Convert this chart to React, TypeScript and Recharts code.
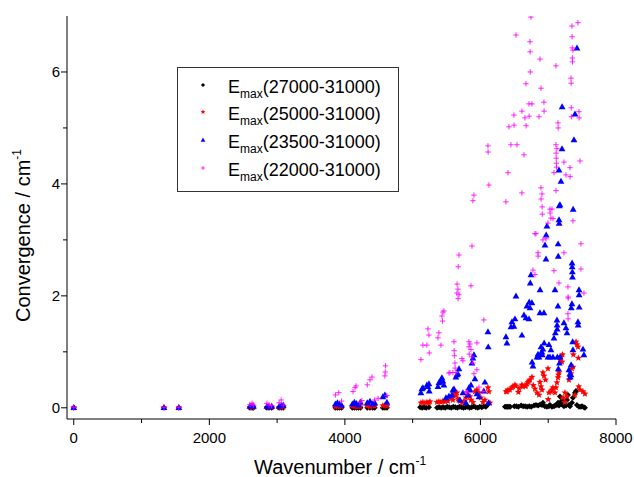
import { ScatterChart, Scatter, XAxis, YAxis, Label } from 'recharts';

// [wavenumber, convergence]
const black: [number, number][] = [
  [0, 0], [1330, 0], [1550, 0], [2600, 0], [2630, 0], [2650, 0], [2850, 0], [2880, 0], [2920, 0],
  [3030, 0], [3060, 0], [3090, 0], [3860, 0], [3890, 0], [3920, 0], [3950, 0], [4110, 0], [4140, 0],
  [4170, 0], [4200, 0], [4230, 0], [4330, 0], [4370, 0], [4410, 0], [4440, 0], [4560, 0], [4590, 0], [4620, 0],
  [5110, 0.01], [5140, 0], [5170, 0.01], [5200, 0], [5240, 0.01], [5360, 0], [5390, 0.01], [5420, 0],
  [5450, 0.01], [5480, 0], [5510, 0.02], [5540, 0.01], [5570, 0], [5600, 0.02], [5630, 0.01], [5660, 0],
  [5690, 0.02], [5720, 0.01], [5750, 0], [5780, 0.01], [5810, 0.02], [5840, 0], [5870, 0.01], [5900, 0.03],
  [5930, 0.01], [5960, 0], [5990, 0.02], [6020, 0.01], [6050, 0.03], [6080, 0.02], [6110, 0.06],
  [6362, 0.02], [6380, 0.02], [6400, 0.02], [6420, 0.02], [6440, 0.02], [6500, 0.03], [6530, 0.03],
  [6560, 0.02], [6600, 0.04], [6630, 0.03], [6660, 0.03], [6690, 0.02], [6720, 0.03], [6750, 0.02],
  [6790, 0.04], [6820, 0.05], [6850, 0.04], [6880, 0.06], [6908, 0.05], [6922, 0.09], [6950, 0.03],
  [6980, 0.02], [7011, 0.03], [7026, 0.05], [7055, 0.02], [7085, 0.03], [7100, 0.04], [7129, 0.05],
  [7144, 0.09], [7159, 0.04], [7173, 0.2], [7188, 0.11], [7203, 0.06], [7218, 0.14], [7232, 0.03],
  [7262, 0.04], [7277, 0.14], [7291, 0.23], [7306, 0.05], [7321, 0.03], [7350, 0.09], [7365, 0.18],
  [7395, 0.27], [7410, 0.3], [7424, 0.05], [7454, 0.02], [7483, 0.02], [7498, 0.03], [7527, 0.01], [7542, 0],
];

const red: [number, number][] = [
  [0, 0.005], [1330, 0.005], [1550, 0.005], [2600, 0.01], [2630, 0.01], [2650, 0.02], [2850, 0.01],
  [2880, 0.01], [2920, 0.01], [3030, 0.01], [3060, 0.01], [3090, 0.02], [3860, 0.02], [3890, 0.03],
  [3920, 0.02], [3950, 0.02], [4110, 0.03], [4140, 0.03], [4170, 0.02], [4200, 0.03], [4230, 0.02],
  [4330, 0.03], [4370, 0.02], [4410, 0.04], [4440, 0.03], [4560, 0.04], [4590, 0.05], [4620, 0.03],
  [5122, 0.09], [5151, 0.1], [5181, 0.09], [5210, 0.1], [5240, 0.09], [5255, 0.11],
  [5358, 0.1], [5387, 0.11], [5417, 0.1], [5446, 0.12], [5476, 0.11], [5505, 0.14], [5520, 0.12],
  [5550, 0.18], [5579, 0.2], [5594, 0.14], [5609, 0.25], [5638, 0.22], [5653, 0.27], [5668, 0.16],
  [5697, 0.12], [5727, 0.09], [5756, 0.12], [5786, 0.18], [5815, 0.23], [5845, 0.2], [5860, 0.14],
  [5889, 0.1], [5919, 0.29], [5948, 0.32], [5978, 0.27], [6007, 0.18], [6037, 0.1], [6066, 0.14],
  [6111, 0.36], [6125, 0.29], [6140, 0.09],
  [6376, 0.29], [6391, 0.29], [6406, 0.32], [6435, 0.32], [6465, 0.36], [6480, 0.38], [6509, 0.41],
  [6524, 0.39], [6560, 0.28], [6570, 0.35], [6612, 0.41], [6627, 0.38], [6657, 0.39], [6671, 0.39],
  [6686, 0.43], [6701, 0.46], [6716, 0.48], [6731, 0.5], [6760, 0.55], [6780, 0.4], [6804, 0.34],
  [6834, 0.27], [6864, 0.23], [6878, 0.46], [6893, 0.38], [6908, 0.32], [6922, 0.63], [6937, 0.57],
  [6960, 0.5], [6996, 0.7], [7000, 0.15], [7011, 0.27], [7040, 0.29], [7055, 0.32], [7070, 0.36],
  [7100, 0.27], [7114, 0.36], [7129, 0.45], [7144, 0.54], [7150, 0.59], [7159, 0.63], [7173, 0.86],
  [7188, 0.91], [7203, 0.82], [7210, 0.95], [7218, 0.18], [7242, 0.1], [7247, 0.27], [7277, 0.2],
  [7306, 0.5], [7321, 0.55], [7336, 0.61], [7350, 0.7], [7365, 0.73], [7370, 0.95], [7395, 0.23],
  [7410, 1.18], [7424, 1.13], [7439, 1.09], [7445, 0.89], [7450, 0.38], [7469, 0.32], [7513, 0.29], [7542, 0.25],
];

const blue: [number, number][] = [
  [0, 0.005], [1330, 0.005], [1550, 0.005], [2600, 0.03], [2630, 0.04], [2650, 0.03], [2850, 0.03],
  [2880, 0.02], [2920, 0.03], [3030, 0.03], [3060, 0.04], [3090, 0.05], [3860, 0.07], [3890, 0.09],
  [3920, 0.07], [3950, 0.05], [4110, 0.07], [4140, 0.1], [4170, 0.08], [4200, 0.05], [4230, 0.1],
  [4330, 0.09], [4370, 0.12], [4410, 0.07], [4440, 0.09], [4560, 0.2], [4590, 0.23], [4620, 0.1],
  [5122, 0.27], [5136, 0.34], [5151, 0.36], [5210, 0.41], [5225, 0.38], [5240, 0.43], [5245, 0.3],
  [5373, 0.38], [5387, 0.45], [5402, 0.46], [5417, 0.5], [5432, 0.54], [5446, 0.48], [5461, 0.41],
  [5491, 0.18], [5535, 0.21], [5579, 0.23], [5594, 0.32], [5609, 0.34], [5638, 0.55], [5653, 0.59],
  [5668, 0.61], [5683, 0.7], [5697, 0.14], [5742, 0.27], [5786, 0.09], [5815, 0.23], [5830, 0.36],
  [5845, 0.32], [5860, 0.41], [5874, 0.8], [5889, 0.89], [5904, 0.95], [5919, 0.52], [5948, 0.25],
  [5978, 0.2], [6050, 0.3], [6066, 0.46], [6111, 1.36], [6115, 1.09], [6120, 0.09],
  [6376, 1.27], [6391, 1.16], [6450, 1.45], [6465, 1.54], [6494, 1.46], [6509, 1.59], [6524, 2.0],
  [6612, 1.3], [6642, 1.66], [6671, 1.61], [6686, 1.82], [6716, 1.59], [6720, 1.89], [6731, 1.79],
  [6735, 2.23], [6745, 2.38], [6760, 1.88], [6762, 0.82], [6775, 0.75], [6834, 0.91], [6849, 0.96],
  [6864, 0.91], [6878, 1.7], [6880, 2.11], [6885, 0.96], [6893, 1.09], [6908, 1.0], [6912, 0.95],
  [6922, 1.05], [6937, 1.7], [6940, 1.16], [6952, 2.91], [6967, 2.66], [6970, 3.09], [6981, 3.25],
  [6996, 0.91], [7011, 1.13], [7026, 0.91], [7040, 1.04], [7070, 0.91], [7085, 1.25], [7100, 2.11],
  [7105, 1.34], [7129, 1.57], [7131, 1.48], [7133, 1.41], [7135, 0.91], [7144, 1.82], [7146, 2.93],
  [7148, 2.71], [7150, 0.7], [7159, 3.36], [7161, 3.3], [7163, 3.61], [7165, 0.8], [7173, 3.63],
  [7175, 0.91], [7188, 4.05], [7159, 4.25], [7203, 4.63], [7205, 5.38], [7232, 1.52], [7262, 1.43],
  [7277, 1.34], [7306, 0.68], [7321, 0.61], [7325, 0.55], [7336, 0.59], [7338, 0.77], [7340, 1.79],
  [7350, 1.86], [7352, 2.59], [7354, 2.52], [7356, 2.43], [7358, 2.34], [7360, 1.18], [7365, 1.04],
  [7368, 3.55], [7380, 4.79], [7395, 5.25], [7424, 6.43], [7439, 1.54], [7442, 1.48], [7454, 2.11],
  [7456, 2.02], [7458, 1.8], [7513, 1.05], [7527, 0.95],
];

const magenta: [number, number][] = [
  [0, 0.01], [1330, 0.01], [1550, 0.01], [2600, 0.06], [2630, 0.08], [2650, 0.05], [2850, 0.08],
  [2880, 0.05], [2920, 0.04], [3030, 0.09], [3060, 0.14], [3090, 0.05], [3860, 0.23], [3910, 0.27],
  [3950, 0.12], [4120, 0.29], [4150, 0.36], [4165, 0.39], [4220, 0.1], [4250, 0.13], [4330, 0.41],
  [4370, 0.5], [4400, 0.55], [4440, 0.14], [4490, 0.17], [4590, 0.57], [4595, 0.64], [4600, 0.75], [4620, 0.22],
  [5122, 0.86], [5151, 1.12], [5210, 1.12], [5225, 1.41], [5240, 1.3], [5245, 0.98],
  [5373, 1.25], [5387, 1.34], [5417, 1.12], [5432, 1.64], [5440, 1.55], [5446, 1.71], [5461, 1.73],
  [5535, 0.62], [5550, 0.63], [5594, 0.63], [5609, 1.18], [5612, 1.02], [5615, 0.93], [5624, 0.8],
  [5627, 0.71], [5638, 0.63], [5653, 2.05], [5655, 2.21], [5668, 2.12], [5683, 2.02], [5670, 1.95],
  [5672, 2.52], [5683, 2.73], [5727, 0.88], [5742, 0.84], [5786, 0.29], [5801, 0.27], [5830, 1.18],
  [5845, 1.14], [5832, 1.09], [5860, 1.04], [5835, 0.96], [5874, 0.91], [5948, 1.16], [5860, 2.18],
  [5875, 2.89], [5889, 0.8], [5948, 0.68], [5904, 0.61], [6050, 1.57], [5978, 0.37], [6037, 0.29],
  [5889, 3.7], [5904, 3.8], [6111, 4.68], [6113, 4.57], [6125, 3.98],
  [6745, 6.98], [7439, 6.88], [7350, 6.82], [6524, 6.66], [7352, 6.63], [6731, 6.54], [7354, 6.43],
  [7365, 6.39], [6733, 6.36], [6878, 6.23], [7356, 6.25], [7358, 6.18], [7114, 6.11], [6735, 6.0],
  [7336, 5.89], [7338, 5.8], [6671, 5.79], [6893, 5.71], [6716, 5.43], [6760, 5.43], [6937, 5.46],
  [6612, 5.3], [6939, 5.3], [7340, 5.36], [7454, 5.29], [6494, 5.23], [6657, 5.18], [6718, 5.21],
  [6864, 5.2], [7342, 5.2], [7456, 5.18], [6421, 5.02], [6496, 5.05], [6673, 5.04], [7144, 5.09],
  [7146, 5.0], [6450, 4.7], [6539, 4.7], [6642, 4.52], [7114, 4.7], [7116, 4.55], [7118, 4.46],
  [7120, 4.37], [7122, 4.3], [7129, 4.63], [7232, 4.39], [7469, 4.41], [7321, 4.29], [7262, 4.16],
  [7323, 4.13], [7085, 4.2], [6406, 4.2], [6612, 3.84], [6376, 3.68], [6893, 3.93], [6908, 3.82],
  [6895, 3.73], [7114, 3.88], [6910, 3.59], [7026, 3.55], [7055, 3.55], [6912, 3.46], [7028, 3.48],
  [7040, 3.39], [7070, 3.38], [6996, 3.3], [7365, 3.34], [6804, 3.11], [6819, 3.11], [6967, 3.02],
  [6922, 3.0], [7483, 2.93], [6849, 2.77], [6851, 2.71], [7232, 2.77], [6775, 2.46], [7085, 2.45],
  [7483, 2.48], [6804, 2.38], [7159, 2.23], [7291, 2.16], [7293, 1.98], [7295, 1.96], [7527, 2.05],
  [7291, 1.68], [7293, 1.59],
];

const xTicks = [0, 1000, 2000, 3000, 4000, 5000, 6000, 7000, 8000];
const yTicks = [0, 1, 2, 3, 4, 5, 6];

const legendItems = [
  { label: '(27000-31000)', kind: 'diamond' },
  { label: '(25000-31000)', kind: 'star' },
  { label: '(23500-31000)', kind: 'triangle' },
  { label: '(22000-31000)', kind: 'plus' },
];

const FONT = 'Liberation Sans, Arial, sans-serif';

const toData = (pts: [number, number][]) => pts.map(([x, y]) => ({ x, y }));

function marker(kind: string, cx: number, cy: number, s = 1) {
  if (kind === 'diamond') {
    const r = 3 * s;
    return <polygon points={`${cx},${cy - r} ${cx + r},${cy} ${cx},${cy + r} ${cx - r},${cy}`} fill="#000" />;
  }
  if (kind === 'star') {
    const pts: string[] = [];
    for (let i = 0; i < 10; i++) {
      const r = (i % 2 === 0 ? 3.6 : 1.6) * s;
      const a = -Math.PI / 2 + (i * Math.PI) / 5;
      pts.push(`${cx + r * Math.cos(a)},${cy + r * Math.sin(a)}`);
    }
    return <polygon points={pts.join(' ')} fill="#ff0000" />;
  }
  if (kind === 'triangle') {
    const r = 3.4 * s;
    return <polygon points={`${cx},${cy - r} ${cx + r},${cy + r * 0.75} ${cx - r},${cy + r * 0.75}`} fill="#0000ff" />;
  }
  const r = 2.7 * s;
  return (
    <path d={`M${cx - r},${cy}H${cx + r}M${cx},${cy - r}V${cy + r}`} stroke="#ff00ff" strokeWidth={1} strokeOpacity={0.85} fill="none" />
  );
}

const shapeOf = (kind: string) => (p: any) => marker(kind, p.cx, p.cy);

function XTick({ x, y, payload }: any) {
  const major = payload.value % 2000 === 0;
  return (
    <g>
      <line x1={x} x2={x} y1={y} y2={y + (major ? 6 : 4)} stroke="#000" />
      {major && (
        <text x={x} y={y + 24} textAnchor="middle" fontSize={15} fontFamily={FONT} fill="#000">
          {payload.value}
        </text>
      )}
    </g>
  );
}

function YTick({ x, y, payload }: any) {
  const major = payload.value % 2 === 0;
  return (
    <g>
      <line x1={x - (major ? 6 : 4)} x2={x} y1={y} y2={y} stroke="#000" />
      {major && (
        <text x={x - 7} y={y + 5} textAnchor="end" fontSize={15} fontFamily={FONT} fill="#000">
          {payload.value}
        </text>
      )}
    </g>
  );
}

function Legendbox() {
  const rows = [93, 120, 148, 176];
  return (
    <svg width={634} height={477} style={{ position: 'absolute', left: 0, top: 0, pointerEvents: 'none' }}>
      <rect x={177.5} y={67.5} width={221} height={124} fill="#fff" stroke="#333" />
      {legendItems.map((it, i) => (
        <g key={it.label}>
          {marker(it.kind, 203, rows[i] - 8, 0.7)}
          <text x={228} y={rows[i]} fontSize={18} fontFamily={FONT} fill="#000">
            E<tspan fontSize={12} dy={5}>max</tspan>
            <tspan dy={-5}>{it.label}</tspan>
          </text>
        </g>
      ))}
    </svg>
  );
}

export default function App() {
  return (
    <div style={{ position: 'absolute', left: 0, top: 0, width: 634, height: 477, background: '#fff' }}>
      <ScatterChart width={634} height={477} margin={{ top: 16, right: 18, bottom: 0, left: 0 }}>
        <XAxis
          type="number"
          dataKey="x"
          domain={[-100, 8000]}
          allowDataOverflow
          ticks={xTicks}
          tick={<XTick />}
          tickLine={false}
          tickSize={0}
          tickMargin={0}
          height={58}
          axisLine={{ stroke: '#000' }}
        >
          <Label
            content={() => (
              <text x={254} y={474} fontSize={20} fontFamily={FONT} fill="#000">
                Wavenumber / cm<tspan fontSize={12} dy={-9}>-1</tspan>
              </text>
            )}
          />
        </XAxis>
        <YAxis
          type="number"
          dataKey="y"
          domain={[-0.2, 7]}
          allowDataOverflow
          ticks={yTicks}
          tick={<YTick />}
          tickLine={false}
          tickSize={0}
          tickMargin={0}
          width={67}
          axisLine={{ stroke: '#000' }}
        >
          <Label
            content={() => (
              <text x={30} y={322} fontSize={20} fontFamily={FONT} fill="#000" transform="rotate(-90 30 322)">
                Convergence / cm<tspan fontSize={12} dy={-9}>-1</tspan>
              </text>
            )}
          />
        </YAxis>
        <Scatter data={toData(black)} shape={shapeOf('diamond')} isAnimationActive={false} />
        <Scatter data={toData(red)} shape={shapeOf('star')} isAnimationActive={false} />
        <Scatter data={toData(blue)} shape={shapeOf('triangle')} isAnimationActive={false} />
        <Scatter data={toData(magenta)} shape={shapeOf('plus')} isAnimationActive={false} />
      </ScatterChart>
      <Legendbox />
    </div>
  );
}
